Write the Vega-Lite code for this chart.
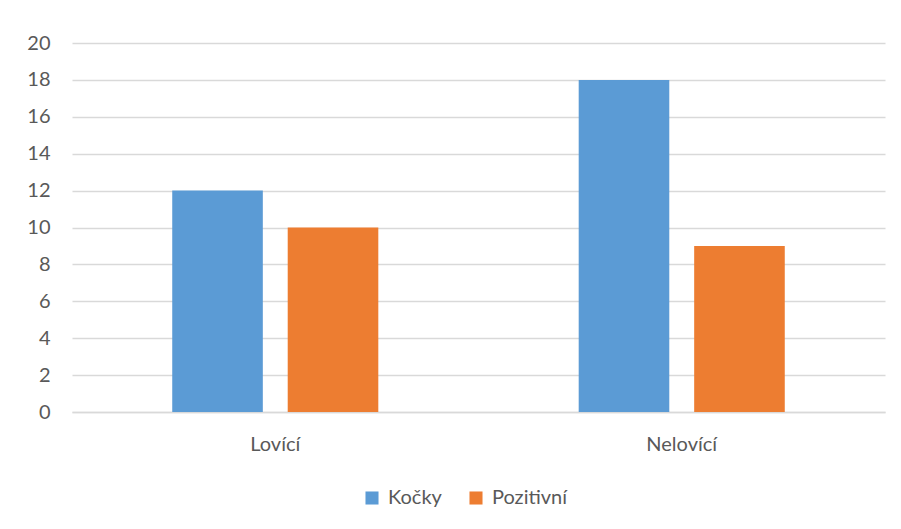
{
  "$schema": "https://vega.github.io/schema/vega-lite/v6.json",
  "width": 813,
  "height": 369,
  "autosize": {"type": "none"},
  "padding": {"left": 72, "top": 43, "right": 16, "bottom": 117},
  "background": "white",
  "config": {
    "font": "Lato",
    "view": {"stroke": null}
  },
  "data": {
    "values": [
      {"kategorie": "Lovící", "serie": "Kočky", "hodnota": 12},
      {"kategorie": "Lovící", "serie": "Pozitivní", "hodnota": 10},
      {"kategorie": "Nelovící", "serie": "Kočky", "hodnota": 18},
      {"kategorie": "Nelovící", "serie": "Pozitivní", "hodnota": 9}
    ]
  },
  "mark": {"type": "bar"},
  "encoding": {
    "x": {
      "field": "kategorie",
      "type": "nominal",
      "sort": ["Lovící", "Nelovící"],
      "scale": {"paddingInner": 0.493, "paddingOuter": 0.2466},
      "axis": {
        "title": null,
        "labelAngle": 0,
        "ticks": false,
        "domain": true,
        "domainColor": "#d9d9d9",
        "domainWidth": 1.5,
        "labelPadding": 22,
        "labelFont": "Lato",
        "labelFontSize": 20,
        "labelColor": "#595959"
      }
    },
    "xOffset": {
      "field": "serie",
      "type": "nominal",
      "sort": ["Kočky", "Pozitivní"],
      "scale": {"paddingInner": 0.2155, "paddingOuter": 0}
    },
    "y": {
      "field": "hodnota",
      "type": "quantitative",
      "scale": {"domain": [0, 20], "nice": false},
      "axis": {
        "title": null,
        "values": [0, 2, 4, 6, 8, 10, 12, 14, 16, 18, 20],
        "ticks": false,
        "domain": false,
        "gridColor": "#d9d9d9",
        "gridWidth": 1.3,
        "labelPadding": 22,
        "labelFont": "Lato",
        "labelFontSize": 20,
        "labelColor": "#595959"
      }
    },
    "color": {
      "field": "serie",
      "type": "nominal",
      "sort": ["Kočky", "Pozitivní"],
      "scale": {"domain": ["Kočky", "Pozitivní"], "range": ["#5B9BD5", "#ED7D31"]},
      "legend": {
        "title": null,
        "orient": "none",
        "legendX": 290,
        "legendY": 445,
        "direction": "horizontal",
        "symbolType": "square",
        "symbolSize": 170,
        "symbolStrokeWidth": 0,
        "columnPadding": 24,
        "labelOffset": 6,
        "labelFont": "Lato",
        "labelFontSize": 20,
        "labelColor": "#595959"
      }
    }
  }
}
